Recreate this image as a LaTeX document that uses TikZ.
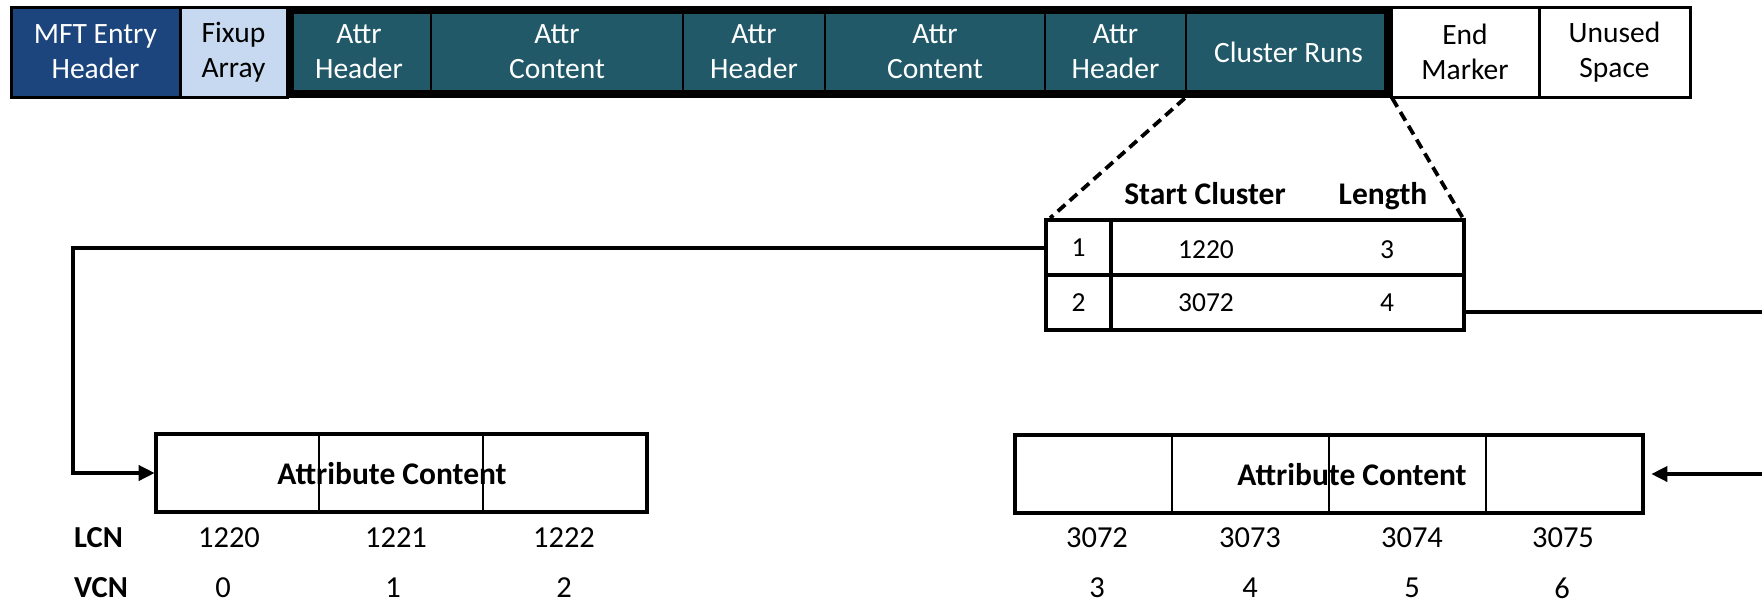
\documentclass[tikz,border=0pt]{standalone}
\usepackage{fontspec}
\setmainfont{Carlito}
\usetikzlibrary{arrows.meta}
\definecolor{mftblue}{HTML}{1C457D}
\definecolor{fixblue}{HTML}{C6D9F1}
\definecolor{attrteal}{HTML}{215968}
\begin{document}
\begin{tikzpicture}[x=1pt,y=-1pt,
  topcell/.style={draw=black, line width=3pt, minimum height=90pt, inner sep=0pt, align=center, font=\fontsize{29.5}{35}\selectfont},
  attrcell/.style={topcell, line width=2.5pt, fill=attrteal, text=white},
  tcell/.style={draw=black, line width=3.8pt, minimum height=55pt, inner sep=0pt, font=\fontsize{27.5}{32}\selectfont},
  tnum/.style={inner sep=0pt, font=\fontsize{27.5}{32}\selectfont},
  hdr/.style={inner sep=0pt, anchor=base, font=\fontsize{31.5}{36}\selectfont\bfseries},
  bcell/.style={draw=black, line width=2.6pt, minimum height=78pt, inner sep=0pt},
  bframe/.style={draw=black, line width=3.4pt},
  btitle/.style={inner sep=0pt, font=\fontsize{31.5}{36}\selectfont\bfseries},
  bnum/.style={inner sep=0pt, font=\fontsize{30.5}{35}\selectfont},
  blabel/.style={inner sep=0pt, anchor=west, font=\fontsize{30.5}{35}\selectfont\bfseries},
  conn/.style={draw=black, line width=3.6pt},
  arr/.style={-{Triangle[length=16pt,width=15pt]}},
  dashline/.style={draw=black, line width=3.8pt, dash pattern=on 10pt off 6pt}
]
\useasboundingbox (0,0) rectangle (1762,606);
\clip (0,0) rectangle (1762,606);
\fill[white] (0,0) rectangle (1762,606);

% top bar
\node[topcell, fill=mftblue, text=white, minimum width=169pt] (mft) at (95.5,52) {MFT Entry\\Header};
\node[topcell, fill=fixblue, minimum width=107pt] (fix) at (233.5,52) {Fixup\\Array};
\node[attrcell, minimum width=144pt] (ah1) at (359,52) {Attr\\Header};
\node[attrcell, minimum width=252pt] (ac1) at (557,52) {Attr\\Content};
\node[attrcell, minimum width=142pt] (ah2) at (754,52) {Attr\\Header};
\node[attrcell, minimum width=220pt] (ac2) at (935,52) {Attr\\Content};
\node[attrcell, minimum width=141pt] (ah3) at (1115.5,52) {Attr\\Header};
\node[attrcell, minimum width=205pt] (cr) at (1288.5,52) {Cluster Runs};
\node[topcell, fill=white, minimum width=148pt] (end) at (1465,52) {End\\Marker};
\node[topcell, fill=white, minimum width=151pt] (unused) at (1614.5,52) {Unused\\Space};
\draw[line width=7pt] (290.5,10.5) rectangle (1387.5,93.5);

% cluster run table
\node[tcell, minimum width=65pt] (r1a) at (1078.5,247.5) {1};
\node[tcell, minimum width=353pt] (r1b) at (1287.5,247.5) {};
\node[tcell, minimum width=65pt] (r2a) at (1078.5,302.5) {2};
\node[tcell, minimum width=353pt] (r2b) at (1287.5,302.5) {};
\node[tnum] (v1s) at (1206,250) {1220};
\node[tnum] (v1l) at (1387,250) {3};
\node[tnum] (v2s) at (1206,303) {3072};
\node[tnum] (v2l) at (1387,303) {4};
\node[hdr] (hs) at (1205,204) {Start Cluster};
\node[hdr] (hl) at (1383,204) {Length};

% zoom lines
\draw[dashline] (cr.south west) -- ([xshift=6pt]r1a.north west);
\draw[dashline] (cr.south east) -- ([xshift=-3pt]r1b.north east);

% left content
\node[bcell, minimum width=163pt] (lc1) at (237.5,473) {};
\node[bcell, minimum width=164pt] (lc2) at (401,473) {};
\node[bcell, minimum width=164pt] (lc3) at (565,473) {};
\draw[bframe] (156,434) rectangle (647,512);
\node[btitle] (lt) at (392,474) {Attribute Content};

% right content
\node[bcell, minimum width=157pt] (rc1) at (1093.5,474) {};
\node[bcell, minimum width=157pt] (rc2) at (1250.5,474) {};
\node[bcell, minimum width=157pt] (rc3) at (1407.5,474) {};
\node[bcell, minimum width=157pt] (rc4) at (1564.5,474) {};
\draw[bframe] (1015,435) rectangle (1643,513);
\node[btitle] (rt) at (1352,475) {Attribute Content};

% connectors
\coordinate (lturn) at (73,473);
\draw[conn, arr] ([yshift=-0.5pt]r1a.west) -| (lturn) -- (lc1.west);
\coordinate (rturn) at (1800,474);
\draw[conn, arr, shorten >=7pt] ([yshift=-9.5pt]r2b.east) -| (rturn) -- (rc4.east);

% LCN / VCN rows
\node[blabel] (lcn) at (74,538) {LCN};
\node[blabel] (vcn) at (74,588) {VCN};
\node[bnum] (l0) at (229,538) {1220};
\node[bnum] (l1) at (396,538) {1221};
\node[bnum] (l2) at (564,538) {1222};
\node[bnum] (l3) at (1097,538) {3072};
\node[bnum] (l4) at (1250,538) {3073};
\node[bnum] (l5) at (1412,538) {3074};
\node[bnum] (l6) at (1563,538) {3075};
\node[bnum] (n0) at (223,588) {0};
\node[bnum] (n1) at (393,588) {1};
\node[bnum] (n2) at (564,588) {2};
\node[bnum] (n3) at (1097,588) {3};
\node[bnum] (n4) at (1250,588) {4};
\node[bnum] (n5) at (1412,588) {5};
\node[bnum] (n6) at (1562,588) {6};
\end{tikzpicture}
\end{document}
